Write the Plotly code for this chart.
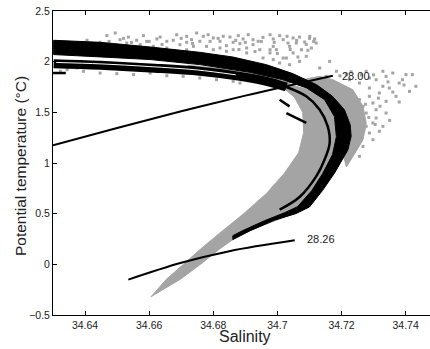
import plotly.graph_objects as go

# ---------------- data ----------------
# grey scattered CTD points
cloud_S = [34.6468, 34.6494, 34.6535, 34.6582, 34.6624, 34.6655, 34.6686, 34.6717, 34.6748, 34.6769,
           34.6800, 34.6821, 34.6852, 34.6862, 34.6893, 34.6924, 34.6955, 34.6987, 34.7018, 34.7049,
           34.7069, 34.7101, 34.7116, 34.7121, 34.7106, 34.7075, 34.7049, 34.7028, 34.7007, 34.6987,
           34.6945, 34.6904, 34.6862, 34.6821, 34.6779, 34.6738, 34.6696, 34.6655, 34.6613, 34.6572,
           34.6530, 34.6489, 34.6447, 34.6406, 34.7038, 34.7069, 34.7090,
           34.6758, 34.6924, 34.6987, 34.7038, 34.6592, 34.6717, 34.6841, 34.6883, 34.7059, 34.6977, 34.6997,
           34.6509, 34.6561, 34.6634, 34.6675, 34.6732, 34.6784, 34.6831, 34.6878, 34.6909, 34.6940,
           34.6977, 34.7007, 34.7033, 34.7085, 34.7095, 34.7064, 34.7018, 34.6977, 34.6955, 34.6904,
           34.6841, 34.6800, 34.6717,
           34.6475, 34.6520, 34.6545, 34.6600, 34.6640, 34.6700, 34.6735, 34.6790, 34.6815, 34.6870,
           34.6900, 34.6950, 34.6990, 34.7030, 34.7060, 34.7100, 34.7113, 34.7090, 34.7040, 34.7000,
           34.6930, 34.6880,
           34.6323, 34.6375, 34.6344, 34.6395, 34.6447, 34.6499, 34.6551, 34.6603, 34.6655, 34.6706,
           34.6758, 34.6810, 34.6862, 34.6883,
           34.7329, 34.7360, 34.7401, 34.7380, 34.7349, 34.7412, 34.7318, 34.7370, 34.7339, 34.7298,
           34.7267, 34.7308, 34.7277, 34.7246, 34.7277, 34.7318, 34.7256, 34.7235, 34.7225, 34.7256,
           34.7287, 34.7173, 34.7152, 34.7132, 34.7163, 34.7194, 34.7235, 34.7215, 34.7287, 34.7256,
           34.7235, 34.7267, 34.7298, 34.7246, 34.7242,
           34.7184, 34.7215, 34.7277, 34.7308, 34.7339, 34.7390, 34.7421, 34.7432, 34.7329, 34.7287,
           34.7380, 34.7308, 34.7339, 34.7329, 34.7287, 34.7298, 34.7267, 34.7256,
           34.7195, 34.7230, 34.7262, 34.7300, 34.7345, 34.7395, 34.7360, 34.7315, 34.7275, 34.7320,
           34.7285, 34.7305, 34.7270, 34.7350]
cloud_T = [2.257, 2.283, 2.243, 2.257, 2.224, 2.201, 2.266, 2.250, 2.283, 2.250,
           2.234, 2.201, 2.243, 2.191, 2.224, 2.217, 2.240, 2.224, 2.217, 2.234,
           2.243, 2.250, 2.224, 2.184, 2.135, 2.118, 2.086, 2.036, 1.987, 2.020,
           2.118, 2.135, 2.118, 2.135, 2.151, 2.151, 2.168, 2.135, 2.151, 2.168,
           2.184, 2.151, 2.191, 2.211, 1.970, 2.003, 2.053,
           2.201, 2.168, 2.151, 2.151, 2.201, 2.191, 2.158, 2.178, 2.184, 2.086, 2.118,
           2.217, 2.211, 2.243, 2.211, 2.217, 2.266, 2.250, 2.257, 2.266, 2.201,
           2.266, 2.257, 2.184, 2.194, 2.112, 2.046, 2.036, 2.118, 2.036, 2.086,
           2.102, 2.118, 2.118,
           2.200, 2.230, 2.190, 2.200, 2.170, 2.230, 2.180, 2.200, 2.230, 2.210,
           2.190, 2.200, 2.190, 2.250, 2.210, 2.230, 2.200, 2.170, 2.120, 2.080,
           2.100, 2.120,
           1.905, 1.938, 1.921, 1.905, 1.888, 1.882, 1.872, 1.888, 1.862, 1.855,
           1.839, 1.822, 1.806, 1.789,
           1.905, 1.888, 1.872, 1.789, 1.740, 1.707, 1.691, 1.658, 1.609, 1.592,
           1.559, 1.526, 1.493, 1.461, 1.362, 1.313, 1.230, 1.164, 1.822, 1.789,
           1.839, 1.789, 1.855, 1.938, 2.003, 1.724, 1.658, 1.625, 1.658, 1.625,
           1.526, 1.428, 1.395, 1.296, 1.263,
           1.905, 1.872, 1.905, 1.822, 1.855, 1.822, 1.872, 1.757, 1.757, 1.740,
           1.602, 1.444, 1.493, 1.362, 1.296, 1.230, 1.164, 1.066,
           1.860, 1.900, 1.870, 1.870, 1.800, 1.770, 1.700, 1.640, 1.580, 1.560,
           1.450, 1.380, 1.330, 1.420]

# grey dense region: deep limb + nose interior (outline, left side up then right side down)
grey_S = [34.6606, 34.6653, 34.6707, 34.6760, 34.6817, 34.6895, 34.6966, 34.7022, 34.7066,
          34.7082, 34.7079, 34.7053, 34.7016, 34.6961,
          34.7140, 34.7185, 34.7200, 34.7190, 34.7160, 34.7120, 34.7050, 34.6965, 34.6886,
          34.6819, 34.6760, 34.6696, 34.6628]
grey_T = [-0.319, -0.150, 0.000, 0.150, 0.300, 0.500, 0.700, 0.900, 1.100,
          1.300, 1.500, 1.650, 1.750, 1.820,
          1.700, 1.500, 1.300, 1.100, 0.900, 0.700, 0.500, 0.400, 0.300,
          0.150, 0.000, -0.150, -0.280]

# grey strip between the two black groups of the upper branch
strip_S = [34.6720, 34.6840, 34.6950, 34.7040]
strip_T = [1.945, 1.905, 1.850, 1.780]

# grey halo outside the nose (outline)
halo_S = [34.7132, 34.7173, 34.7235, 34.7267, 34.7277, 34.7267, 34.7241, 34.7215,
          34.7204, 34.7215, 34.7209, 34.7184, 34.7132, 34.7069]
halo_T = [1.855, 1.822, 1.724, 1.559, 1.395, 1.230, 1.092, 0.961,
          1.099, 1.263, 1.428, 1.592, 1.724, 1.816]

# black dense crescent (outline: outer edge then inner edge)
band_S = [34.6302, 34.6447, 34.6603, 34.6758, 34.6861, 34.6966, 34.7048, 34.7122, 34.7172, 34.7209,
          34.7227, 34.7230, 34.7220, 34.7178, 34.7141, 34.7100, 34.7057, 34.6990, 34.6914, 34.6861,
          34.6861, 34.6892, 34.6960, 34.7023, 34.7063, 34.7107, 34.7141, 34.7172, 34.7184, 34.7178,
          34.7147, 34.7091, 34.7016, 34.6914, 34.6758, 34.6603, 34.6447, 34.6302]
band_T = [2.211, 2.191, 2.145, 2.092, 2.046, 1.970, 1.882, 1.773, 1.658, 1.526,
          1.378, 1.263, 1.130, 0.900, 0.730, 0.566, 0.500, 0.435, 0.330, 0.244,
          0.283, 0.333, 0.431, 0.510, 0.569, 0.727, 0.895, 1.083, 1.260, 1.458,
          1.626, 1.741, 1.823, 1.895, 1.971, 2.021, 2.047, 2.070]

# black secondary group (upper branch, lower side)
second_S = [34.6302, 34.6447, 34.6603, 34.6758, 34.6883, 34.6966, 34.7028]
second_T = [1.980, 1.964, 1.938, 1.905, 1.855, 1.806, 1.750]

# white streak inside the secondary group
streak_S = [34.6310, 34.6450, 34.6600, 34.6750, 34.6870]
streak_T = [1.992, 1.978, 1.952, 1.918, 1.870]

# inner black streaks in the nose
inner_S = [34.7028, 34.7090, 34.7132, 34.7157, 34.7163, 34.7147, 34.7121, 34.7069, 34.7007]
inner_T = [1.750, 1.658, 1.526, 1.362, 1.197, 1.033, 0.868, 0.664, 0.539]

# short black dashes
dash_S = [34.7007, 34.7038, None, 34.7028, 34.7090, None, 34.6300, 34.6340]
dash_T = [1.625, 1.559, None, 1.493, 1.395, None, 1.888, 1.888]

# isopycnals
iso1_S = [34.630, 34.650, 34.670, 34.690, 34.7173]
iso1_T = [1.174, 1.345, 1.510, 1.665, 1.862]
iso2_S = [34.6535, 34.670, 34.685, 34.7054]
iso2_T = [-0.151, 0.015, 0.130, 0.237]
iso_labels = ["28.00", "28.26"]
label_S = [34.7245, 34.7136]
label_T = [1.855, 0.250]

xticks = [34.64, 34.66, 34.68, 34.70, 34.72, 34.74]
xticktext = ["34.64", "34.66", "34.68", "34.7", "34.72", "34.74"]
yticks = [-0.5, 0, 0.5, 1, 1.5, 2, 2.5]
yticktext = ["\u22120.5", "0", "0.5", "1", "1.5", "2", "2.5"]

GREY = "#a4a4a4"
FONT = "Liberation Sans, Arial, Helvetica, sans-serif"

fig = go.Figure()


def line(S, T, color, width):
    fig.add_trace(go.Scatter(x=S, y=T, mode="lines", line=dict(color=color, width=width, shape="spline"),
                             hoverinfo="skip", showlegend=False, connectgaps=False))


def area(S, T, color):
    fig.add_trace(go.Scatter(x=S + S[:1], y=T + T[:1], mode="lines", fill="toself", fillcolor=color,
                             line=dict(color=color, width=1),
                             hoverinfo="skip", showlegend=False))


fig.add_trace(go.Scatter(x=cloud_S, y=cloud_T, mode="markers",
                         marker=dict(symbol="square", size=3, color=GREY, line=dict(width=0)),
                         hoverinfo="skip", showlegend=False))
area(halo_S, halo_T, GREY)
area(grey_S, grey_T, GREY)
line(strip_S, strip_T, GREY, 5)
line(second_S, second_T, "black", 9)
line(streak_S, streak_T, "white", 1)
area(band_S, band_T, "black")
line(inner_S, inner_T, "black", 2.5)
fig.add_trace(go.Scatter(x=dash_S, y=dash_T, mode="lines", line=dict(color="black", width=2.5),
                         hoverinfo="skip", showlegend=False, connectgaps=False))
line(iso1_S, iso1_T, "black", 2)
line(iso2_S, iso2_T, "black", 2)

for txt, s, t in zip(iso_labels, label_S, label_T):
    fig.add_annotation(x=s, y=t, text=txt, showarrow=False, xanchor="center", yanchor="middle",
                       font=dict(family=FONT, size=11, color="#222"))

fig.add_annotation(xref="paper", yref="paper", x=0.509, y=-0.072, text="Salinity", showarrow=False,
                   xanchor="center", yanchor="middle", font=dict(family=FONT, size=16, color="#222"))
fig.add_annotation(xref="paper", yref="paper", x=-0.0875, y=0.49, text="Potential temperature (\u00b0C)",
                   showarrow=False, textangle=-90, xanchor="center", yanchor="middle",
                   font=dict(family=FONT, size=15.5, color="#222"))

fig.update_layout(
    width=430, height=349,
    margin=dict(l=53, r=0, t=11, b=34),
    paper_bgcolor="white", plot_bgcolor="white",
    font=dict(family=FONT, size=10.5, color="#222"),
    xaxis=dict(range=[34.63, 34.7476], tickvals=xticks, ticktext=xticktext, ticks="inside", ticklen=4,
               tickcolor="black", showline=True, linecolor="black", linewidth=1, mirror="ticks",
               showgrid=False, zeroline=False, tickfont=dict(size=10.5)),
    yaxis=dict(range=[-0.5, 2.5], tickvals=yticks, ticktext=yticktext, ticks="inside", ticklen=4,
               tickcolor="black", showline=True, linecolor="black", linewidth=1, mirror=False,
               showgrid=False, zeroline=False, tickfont=dict(size=10.5)),
)

fig.write_html("out.html")
